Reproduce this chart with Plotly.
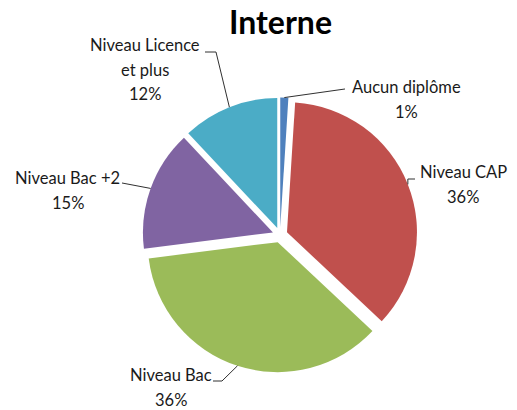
import math
import plotly.graph_objects as go

# ---- data ----
categories = ["Aucun diplôme", "Niveau CAP", "Niveau Bac", "Niveau Bac +2", "Niveau Licence et plus"]
values = [1, 36, 36, 15, 12]
label_lines = [["Aucun diplôme", "1%"], ["Niveau CAP", "36%"], ["Niveau Bac", "36%"],
               ["Niveau Bac +2", "15%"], ["Niveau Licence", "et plus", "12%"]]
colors = ["#4F81BD", "#C0504D", "#9BBB59", "#8064A2", "#4BACC6"]

# ---- layout constants ----
W, H = 517, 410
CX, CY = 280, 235          # pie centre (px)
R = 130.0                  # slice radius (px)
PULL_PX = 7.5
PULL = PULL_PX / R
HALF = R * (1 + PULL)

FONT = "Lato"
TXT = "#1a1a1a"
LINE_STEP = 24.5

# label text positions (centre x, first-line centre y)
label_pos = [(406.5, 87), (463, 172), (170.5, 375), (67.5, 178), (145, 45)]
# leader path: text-side points (px); slice end computed from data
leader_text_pts = [
    [(345, 89)],
    [(415, 179)],
    [(213, 381), (222, 381)],
    [(122, 183)],
    [(205, 52), (216, 52)],
]


def px(x):
    return x / W


def py(y):
    return 1 - y / H


fig = go.Figure(go.Pie(
    labels=categories, values=values, sort=False, direction="clockwise", rotation=0,
    marker=dict(colors=colors, line=dict(width=0)),
    pull=[PULL] * len(values), textinfo="none", hoverinfo="label+percent",
    domain=dict(x=[px(CX - HALF), px(CX + HALF)], y=[py(CY + HALF), py(CY - HALF)]),
    showlegend=False,
))

total = sum(values)
cum = 0
shapes = []
annotations = []
for i, v in enumerate(values):
    mid = (cum + v / 2) / total * 2 * math.pi
    cum += v
    dx, dy = math.sin(mid), -math.cos(mid)
    ax = CX + (PULL_PX + R) * dx
    ay = CY + (PULL_PX + R) * dy
    pts = list(leader_text_pts[i])
    if i == 1:
        pts = [pts[0], (ax, pts[0][1])]
    pts.append((ax, ay))
    path = "M " + " L ".join(f"{px(x):.5f},{py(y):.5f}" for x, y in pts)
    shapes.append(dict(type="path", xref="paper", yref="paper", path=path,
                       line=dict(color="#303030", width=1)))
    lx, ly = label_pos[i]
    for k, t in enumerate(label_lines[i]):
        annotations.append(dict(text=t, x=px(lx), y=py(ly + k * LINE_STEP), xref="paper", yref="paper",
                                xanchor="center", yanchor="middle", showarrow=False,
                                font=dict(family=FONT, size=16.5, color=TXT)))

annotations.append(dict(text="<b>Interne</b>", x=px(280), y=py(21), xref="paper", yref="paper",
                        xanchor="center", yanchor="middle", showarrow=False,
                        font=dict(family=FONT, size=32, color="#000000")))

fig.update_layout(width=W, height=H, margin=dict(l=0, r=0, t=0, b=0),
                  paper_bgcolor="white", plot_bgcolor="white",
                  shapes=shapes, annotations=annotations)

fig.write_html("out.html")
